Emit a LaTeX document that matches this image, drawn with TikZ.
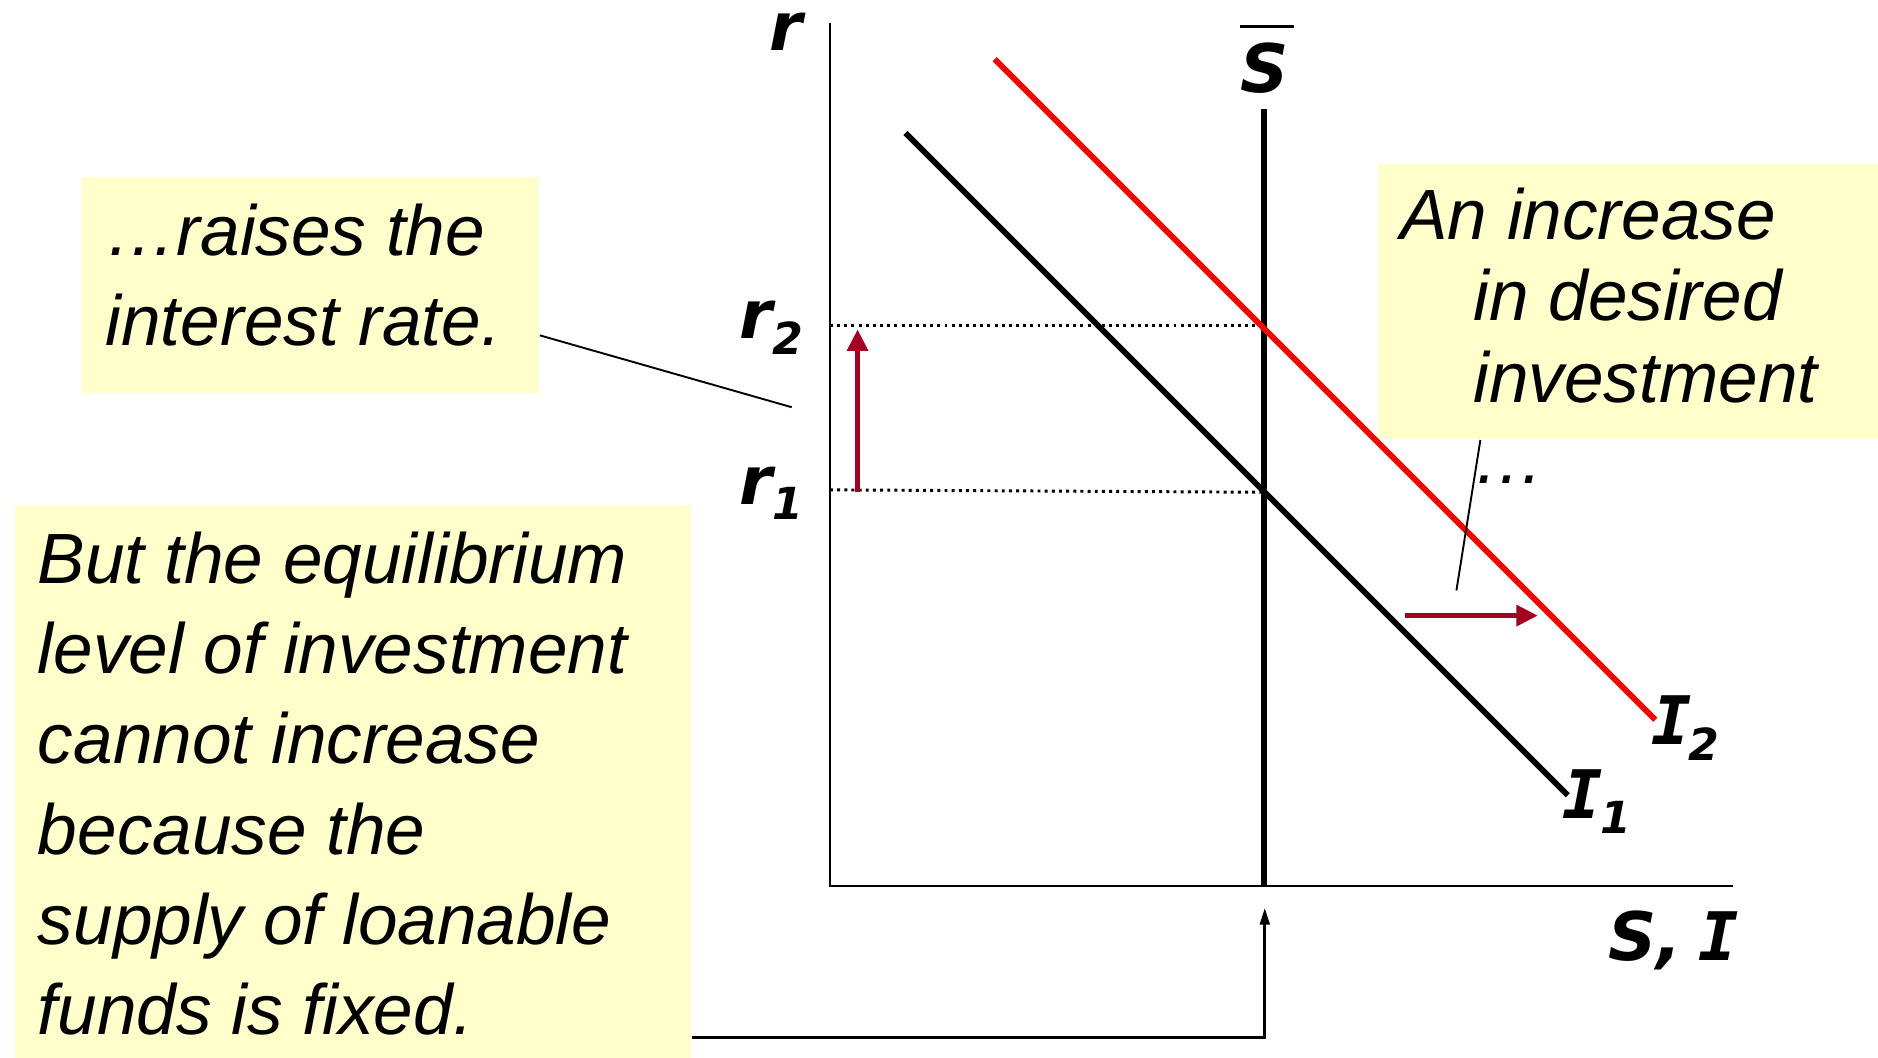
\documentclass[tikz,border=0pt]{standalone}
\usepackage{fontspec}
\setmainfont{Liberation Sans}
\newfontfamily\lblfont{DejaVu Sans}
\newfontfamily\lblIfont{DejaVu Sans Mono}
\usetikzlibrary{arrows.meta}
\definecolor{boxyellow}{HTML}{FFFFCC}
\definecolor{shiftred}{HTML}{A50021}
\definecolor{curvered}{HTML}{FF0000}
\newcommand{\lblsub}[1]{\raisebox{-1.3mm}{\fontsize{10.5pt}{11pt}\selectfont #1}}
\newcommand{\serifI}{{\lblIfont\bfseries\itshape\kern-0.6pt I\kern-0.6pt}}
\begin{document}
\begin{tikzpicture}[x=0.1mm,y=-0.1mm,
  note/.style={fill=boxyellow, draw=none, inner sep=0pt, rectangle},
  notetext/.style={anchor=base west, inner sep=0pt, font=\fontsize{16.9pt}{21.45pt}\selectfont\itshape},
  lbl/.style={anchor=base west, inner sep=0pt, font=\lblfont\bfseries\itshape\fontsize{15.9pt}{18pt}\selectfont},
  axis/.style={line width=0.55pt},
  curve/.style={line width=1.4pt},
  guide/.style={densely dotted, line width=0.7pt},
  shiftarrow/.style={shiftred, line width=1.25pt, -{Triangle[length=1.8mm,width=1.7mm]}},
  pointer/.style={line width=0.45pt}
]
\useasboundingbox (0,0) rectangle (1568,883);

% note boxes
\node[note, minimum width=38.24mm, minimum height=18mm] (box1) at (258.8,238) {};
\node[note, minimum width=56.45mm, minimum height=46.1mm] (box2) at (294.75,652.5) {};
\node[note, minimum width=41.74mm, minimum height=22.97mm] (box3) at (1359.3,251.9) {};

\node[notetext] (t1) at (87.5,213) {\parbox[t]{40mm}{…raises the\\interest rate.}};
\node[notetext] (t2) at (31,487) {\parbox[t]{56mm}{But the equilibrium\\level of investment\\cannot increase\\because the\\supply of loanable\\funds is fixed.}};
\node[notetext, font=\fontsize{16.9pt}{19.35pt}\selectfont\itshape] (t3) at (1168.5,200) {\parbox[t]{45mm}{An increase\\\hspace*{6.1mm}in desired\\\hspace*{6.1mm}investment\\\hspace*{6.1mm}…}};

% axes
\draw[axis] (693,19) -- (693,740) -- (1447,740);

% guides
\draw[guide] (693,272) -- (1055,272);
\draw[guide] (693,409) -- (1055,411);

% curves
\draw[curve] (1055,91) -- (1055,740);
\coordinate (i1top) at (756,111);
\coordinate (i1end) at (1309,664);
\coordinate (i2top) at (830.5,49.5);
\coordinate (i2end) at (1382,601);
\draw[curve] (i1top) -- (i1end);
\draw[curve, curvered] (i2top) -- (i2end);

% labels
\node[lbl] (rlab) at (642,42) {r};
\node[lbl] (r2lab) at (617,283) {r\lblsub{2}};
\node[lbl] (r1lab) at (617,421) {r\lblsub{1}};
\node[lbl, anchor=base] (slab) at (1056,77) {S};
\draw[line width=0.6pt] (1035,22) -- (1080,22);
\node[lbl] (i2lab) at (1380,622) {\serifI\lblsub{2}};
\node[lbl] (i1lab) at (1306,683) {\serifI\lblsub{1}};
\node[lbl] (silab) at (1342,802) {S,\kern4.5pt\serifI};

% shift arrows
\coordinate (r1pt) at (716,411);
\coordinate (r2pt) at (716,275);
\draw[shiftarrow] (r1pt) -- (r2pt);
\coordinate (shA) at (1173,514);
\coordinate (shB) at (1284,514);
\draw[shiftarrow] (shA) -- (shB);

% pointers
\coordinate (p1) at (661,340);
\draw[pointer] ([yshift=-4.2mm]box1.east) -- (p1);
\coordinate (p3) at (1216,493);
\draw[pointer] ([xshift=-12.33mm]box3.south) -- (p3);
\coordinate (sfoot) at (1056,758);
\draw[line width=0.7pt, -{Triangle[length=1.4mm,width=0.8mm]}] ([yshift=-21.35mm]box2.east) -| (sfoot);
\end{tikzpicture}
\end{document}
